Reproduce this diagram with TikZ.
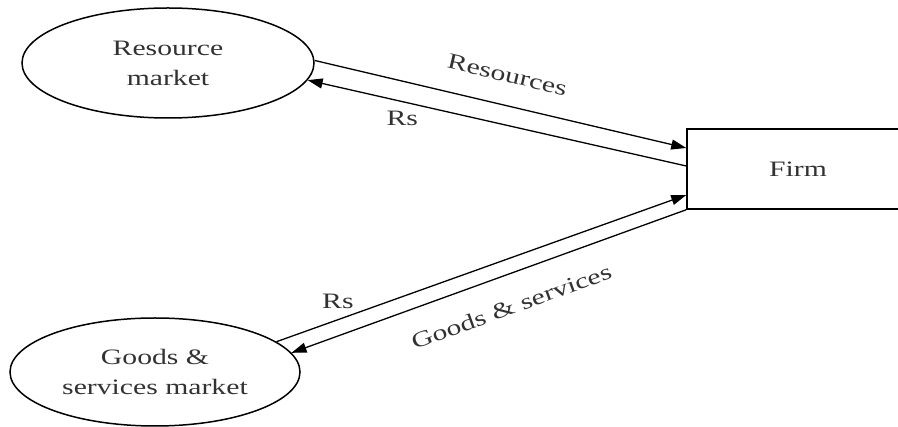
\documentclass[tikz,border=0pt]{standalone}
\usepackage{fontspec}
\setmainfont{Liberation Serif}[FakeStretch=1.35]
\usetikzlibrary{shapes.geometric,arrows.meta}
\definecolor{ink}{RGB}{50,50,50}

\begin{document}
\begin{tikzpicture}[x=1pt,y=-1pt,
        market/.style={ellipse,draw,line width=1.5pt,minimum width=292pt,minimum height=110pt,
            align=center,text=ink,font=\fontsize{22}{30}\selectfont},
        flow/.style={line width=1.3pt,-{Triangle[length=15pt,width=10pt]}},
        lbl/.style={text=ink,inner sep=2pt,font=\fontsize{22}{26}\selectfont}]
        \clip (0,0) rectangle (898,427);
        \useasboundingbox (0,0) rectangle (898,427);

        \node[market] (res) at (168,63) {Resource\\market};
        \node[market,minimum width=290pt,minimum height=108pt] (goods) at (155,372) {Goods \&\\services market};
        \node[draw,line width=1.5pt,minimum width=222pt,minimum height=80pt,text=ink,
            font=\fontsize{22}{26}\selectfont] (firm) at (798,169) {Firm};

        % resource side
        \draw[flow] (res.1) -- ([yshift=21pt]firm.west)
            node[lbl,sloped,pos=0.5,above=20pt] {Resources};
        \draw[flow] ([yshift=3pt]firm.west) -- (res.-7.5)
            node[lbl,pos=0.75,below=7pt] {Rs};

        % goods side
        \draw[flow] (goods.14) -- ([yshift=-26pt]firm.west)
            node[lbl,pos=0.15,above=8pt] {Rs};
        \draw[flow] (firm.south west) -- (goods.8)
            node[lbl,sloped,pos=0.47,below=21pt] {Goods \& services};
    \end{tikzpicture}
\end{document}
